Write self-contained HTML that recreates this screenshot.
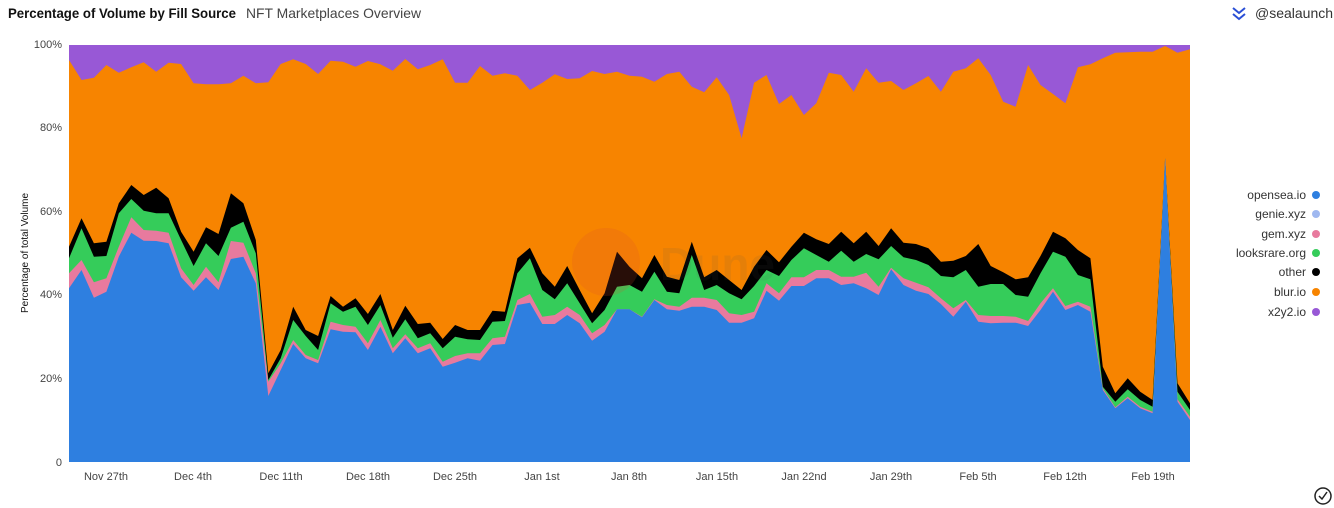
<!DOCTYPE html>
<html><head><meta charset="utf-8"><style>
body{margin:0;background:#fff;width:1334px;height:508px;overflow:hidden;font-family:"Liberation Sans",sans-serif;}
</style></head><body>
<svg id="s" width="1334" height="508" xmlns="http://www.w3.org/2000/svg" style="position:absolute;left:0;top:0">
<text x="8" y="18" font-size="14" font-weight="bold" fill="#111" textLength="228" lengthAdjust="spacingAndGlyphs">Percentage of Volume by Fill Source</text>
<text x="246" y="18" font-size="14" fill="#444" textLength="175" lengthAdjust="spacingAndGlyphs">NFT Marketplaces Overview</text>
<g transform="translate(1232,6)" fill="none" stroke="#2a4fd6" stroke-width="2"><path d="M1 2 L7 7 L13 2 M1 8 L7 13 L13 8"/></g>
<text x="1255" y="18" font-size="14" fill="#333">@sealaunch</text>
<g id="chart"></g>
<g font-size="11" fill="#444" text-anchor="end">
<text x="62" y="48">100%</text><text x="62" y="131">80%</text><text x="62" y="215">60%</text><text x="62" y="298">40%</text><text x="62" y="382">20%</text><text x="62" y="466">0</text>
</g>
<g font-size="11" fill="#444" text-anchor="middle">
<text x="106" y="480">Nov 27th</text><text x="193" y="480">Dec 4th</text><text x="281" y="480">Dec 11th</text><text x="368" y="480">Dec 18th</text><text x="455" y="480">Dec 25th</text><text x="542" y="480">Jan 1st</text><text x="629" y="480">Jan 8th</text><text x="717" y="480">Jan 15th</text><text x="804" y="480">Jan 22nd</text><text x="891" y="480">Jan 29th</text><text x="978" y="480">Feb 5th</text><text x="1065" y="480">Feb 12th</text><text x="1153" y="480">Feb 19th</text>
</g>
<text transform="translate(28,253) rotate(-90)" font-size="10" text-anchor="middle" fill="#111">Percentage of total Volume</text>
<g font-size="12" fill="#333" text-anchor="end">
<text x="1306" y="199">opensea.io</text><text x="1306" y="218">genie.xyz</text><text x="1306" y="238">gem.xyz</text><text x="1306" y="257">looksrare.org</text><text x="1306" y="276">other</text><text x="1306" y="296">blur.io</text><text x="1306" y="316">x2y2.io</text>
</g>
<circle cx="1316" cy="195" r="4" fill="#2e7fe0"/><circle cx="1316" cy="214" r="4" fill="#9fb8f0"/><circle cx="1316" cy="234" r="4" fill="#e87a9e"/><circle cx="1316" cy="253" r="4" fill="#35cc5a"/><circle cx="1316" cy="272" r="4" fill="#000"/><circle cx="1316" cy="292" r="4" fill="#f78400"/><circle cx="1316" cy="312" r="4" fill="#9858d6"/>
<circle cx="1323" cy="496" r="8" fill="none" stroke="#222" stroke-width="1.5"/><path d="M1319 496 L1322 499 L1327 492" fill="none" stroke="#222" stroke-width="1.5"/>
</svg>
<script>
var O=[60,120,113,75,98,82,67,95,68,72,130,133,133,130,107,130,127,72,58,72,102,62,65,80,63,73,92,57,88,75,58,128,
128,78,107,100,107,150,128,103,117,115,93,102,95,107,110,125,102,95,140,157,112,165,295,128,105,192,165,225,190,98,
105,155,85,128,123,150,130,108,155,95,85,55,105,185,200,75,135,162,190,82,73,55,38,37,35,35,18,38,28];
var K=[620,535,610,605,490,435,465,443,475,575,635,562,582,460,490,600,1000,930,800,870,888,768,800,775,822,762,870,797,852,848,897,855,
870,870,812,815,655,623,700,740,678,750,820,760,635,680,715,645,710,720,605,712,690,720,750,680,630,667,620,578,598,612,
575,610,575,618,565,608,612,625,665,662,648,612,678,697,718,712,648,575,595,630,655,980,1060,1015,1055,1080,355,1030,1090];
var G=[655,565,650,648,520,477,512,520,520,600,678,610,648,563,545,640,1020,955,840,888,930,790,815,800,855,795,893,838,895,880,925,890,
898,900,845,843,700,655,750,778,730,790,850,810,740,735,755,695,755,760,645,750,735,760,778,738,690,708,660,625,645,665,
632,665,642,658,618,652,660,675,708,712,690,740,732,732,765,770,700,635,650,705,718,1040,1085,1048,1080,1100,355,1055,1110];
var P=[700,660,727,715,620,532,570,572,578,685,735,680,727,603,608,700,1025,970,900,945,960,845,855,860,910,840,925,883,925,910,965,948,
940,940,895,890,780,762,830,825,800,825,880,855,808,808,830,778,795,800,773,773,780,820,825,815,730,760,712,712,690,690,
710,710,698,740,683,715,728,742,775,805,780,825,828,828,830,843,790,745,798,785,800,1045,1102,1070,1100,1115,355,1078,1130];
var B=[745,690,773,755,650,578,602,603,610,712,752,712,750,657,650,730,1068,990,912,955,970,868,875,877,930,860,940,895,940,925,980,968,
955,962,915,912,795,788,852,852,825,850,902,875,808,808,832,780,808,812,800,800,810,848,848,835,752,782,738,738,715,715,
735,730,745,765,688,735,752,762,792,830,785,845,850,848,848,858,810,755,810,795,815,1050,1105,1075,1105,1120,355,1085,1140];
var x0=69,x1=1190,yb=462,yt=45,n=O.length,dx=(x1-x0)/(n-1);
function poly(a,c){var s=x0+','+yb+' ';for(var i=0;i<n;i++){s+=(x0+i*dx).toFixed(1)+','+(40+a[i]/3).toFixed(1)+' ';}s+=x1+','+yb;return '<polygon points="'+s+'" fill="'+c+'"/>';}
var h='<rect x="'+x0+'" y="'+yt+'" width="'+(x1-x0)+'" height="'+(yb-yt)+'" fill="#9858d6"/>';
h+=poly(O,'#f78400')+poly(K,'#000')+poly(G,'#35cc5a')+poly(P,'#e87a9e')+poly(B,'#2e7fe0');
h+='<circle cx="606" cy="262" r="34" fill="#e0502a" opacity="0.18"/><text x="660" y="280" font-size="46" font-weight="bold" fill="#555" opacity="0.1">Dune</text>';
document.getElementById('chart').innerHTML=h;
</script>
</body></html>
